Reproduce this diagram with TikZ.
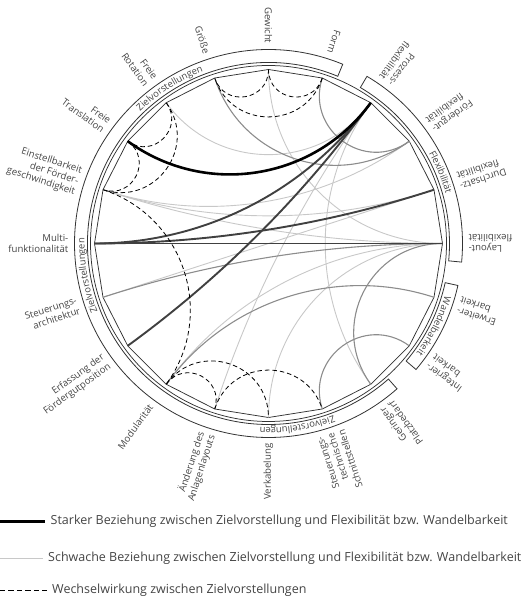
\documentclass[tikz,border=0pt]{standalone}
\usepackage{fontspec}
\setmainfont{Open Sans}
\usetikzlibrary{decorations.text}
\definecolor{txtgray}{RGB}{68,68,68}
\definecolor{chorddark}{RGB}{64,64,64}
\definecolor{chordmid}{RGB}{140,140,140}
\definecolor{chordlight}{RGB}{200,200,200}
\newcommand\lblfont{\fontsize{9.6}{11.2}\selectfont}
\newcommand\bandfont{\fontsize{9.4}{11}\selectfont}
\newcommand\legfont{\fontsize{12.5}{14}\selectfont}
\tikzset{
  ring/.style={line width=0.75pt, draw=black!80},
  band/.style={line width=0.8pt, draw=black!80, fill=white},
  lbl/.style={anchor=east, align=right, font=\lblfont, text=txtgray, inner sep=1pt},
  strong/.style={line width=2.6pt, draw=black},
  dark/.style={line width=1.9pt, draw=chorddark},
  medium/.style={line width=1.1pt, draw=chordmid},
  weak/.style={line width=0.9pt, draw=chordlight},
  inter/.style={line width=0.8pt, draw=black, dash pattern=on 4.5pt off 3pt},
  legtext/.style={anchor=west, font=\legfont, text=txtgray, inner xsep=5pt, inner ysep=0pt},
  bandtext/.style={decorate, decoration={text along path, text align=center,
      text color=txtgray, text={|\bandfont|#1}}},
}

\begin{document}
\begin{tikzpicture}[x=1pt, y=1pt]
  \useasboundingbox (-268.5,-357.5) rectangle (256.5,243.5);

  % points on the circle, one every 18 degrees
  \coordinate (c) at (0,0);
  \foreach \i in {0,...,19}
    \coordinate (v\i) at (18*\i:174);

  % rings
  \draw[band] (67.5:181) arc[start angle=67.5, end angle=311.5, radius=181]
    -- (311.5:194) arc[start angle=311.5, end angle=67.5, radius=194] -- cycle;
  \draw[band] (59.5:181) arc[start angle=59.5, end angle=-5.5, radius=181]
    -- (-5.5:194) arc[start angle=-5.5, end angle=59.5, radius=194] -- cycle;
  \draw[band] (-12.5:181) arc[start angle=-12.5, end angle=-40.5, radius=181]
    -- (-40.5:194) arc[start angle=-40.5, end angle=-12.5, radius=194] -- cycle;
  \draw[ring] (c) circle[radius=178];
  \draw[ring] (v0) \foreach \i in {1,...,19}{ -- (v\i)} -- cycle;

  \path[bandtext=Zielvorstellungen] (150:184) arc[start angle=150, end angle=95, radius=184];
  \path[bandtext=Zielvorstellungen] (215:184) arc[start angle=215, end angle=165, radius=184];
  \path[bandtext=Zielvorstellungen] (305:184) arc[start angle=305, end angle=253, radius=184];
  \path[bandtext=Flexibilität] (50:184) arc[start angle=50, end angle=-5, radius=184];
  \path[bandtext=Wandelbarkeit] (-2:184) arc[start angle=-2, end angle=-51, radius=184];

  % relations
  \foreach \a/\b/\s in {7/3/weak, 5/0/weak, 9/2/weak, 9/1/weak, 9/0/weak,
      11/1/weak, 13/0/weak, 14/3/weak, 15/0/weak, 17/3/weak,
      6/2/medium, 4/2/medium, 11/0/medium, 16/18/medium, 17/0/medium, 13/19/medium,
      10/0/dark, 10/3/dark, 10/1/dark, 12/3/dark,
      8/3/strong,
      8/7/inter, 9/8/inter, 9/7/inter, 5/6/inter, 4/5/inter, 4/6/inter,
      9/13/inter, 13/14/inter, 13/15/inter, 14/16/inter}{
    \pgfmathtruncatemacro\d{mod(\b-\a+20,20)}
    \ifnum\d>10
      \pgfmathtruncatemacro\d{20-\d}
      \edef\va{\b}\edef\vb{\a}
    \else
      \edef\va{\a}\edef\vb{\b}
    \fi
    \pgfmathsetmacro\bnd{90-9*\d}
    \pgfmathsetmacro\lns{1/(3*cos(\bnd/2)^2*0.3915)}
    \draw[\s] (v\va) to[bend left=\bnd, looseness=\lns] (v\vb);
  }

  % labels
  \foreach \i/\lab in {0/{Layout-\\flexibilität}, 1/{Durchsatz-\\flexibilität},
      2/{Fördergut-\\flexibilität}, 3/{Prozess-\\flexibilität}, 4/Form, 5/Gewicht,
      6/Größe, 7/{Freie\\Rotation}, 8/{Freie\\Translation},
      9/{Einstellbarkeit\\der Förder-\\geschwindigkeit}, 10/{Multi-\\funktionalität},
      11/{Steuerungs-\\architektur}, 12/{Erfassung der\\Fördergutposition},
      13/Modularität, 14/{Änderung des\\Anlagenlayouts}, 15/Verkabelung,
      16/{Steuerungs-\\technische\\Schnittstellen}, 17/{Geringer\\Platzbedarf},
      18/{Integrier-\\barkeit}, 19/{Erweiter-\\barkeit}}
    \node[lbl, rotate=18*\i-180] (l\i) at (18*\i:199) {\lab};

  % legend
  \coordinate (k1) at (-268.5,-277.5);
  \coordinate (k2) at (-268.5,-314.5);
  \coordinate (k3) at (-268.5,-346.5);
  \node[legtext] (leg1) at (-223,-277.5) {Starker Beziehung zwischen Zielvorstellung und Flexibilität bzw. Wandelbarkeit};
  \node[legtext] (leg2) at (-225.5,-314.5) {Schwache Beziehung zwischen Zielvorstellung und Flexibilität bzw. Wandelbarkeit};
  \node[legtext] (leg3) at (-221.5,-346.5) {Wechselwirkung zwischen Zielvorstellungen};
  \draw[strong, line width=3pt] (k1) -- (leg1.west);
  \draw[weak] (k2) -- (leg2.west);
  \draw[inter, dash pattern=on 5.5pt off 3pt] (k3) -- (leg3.west);
\end{tikzpicture}
\end{document}
